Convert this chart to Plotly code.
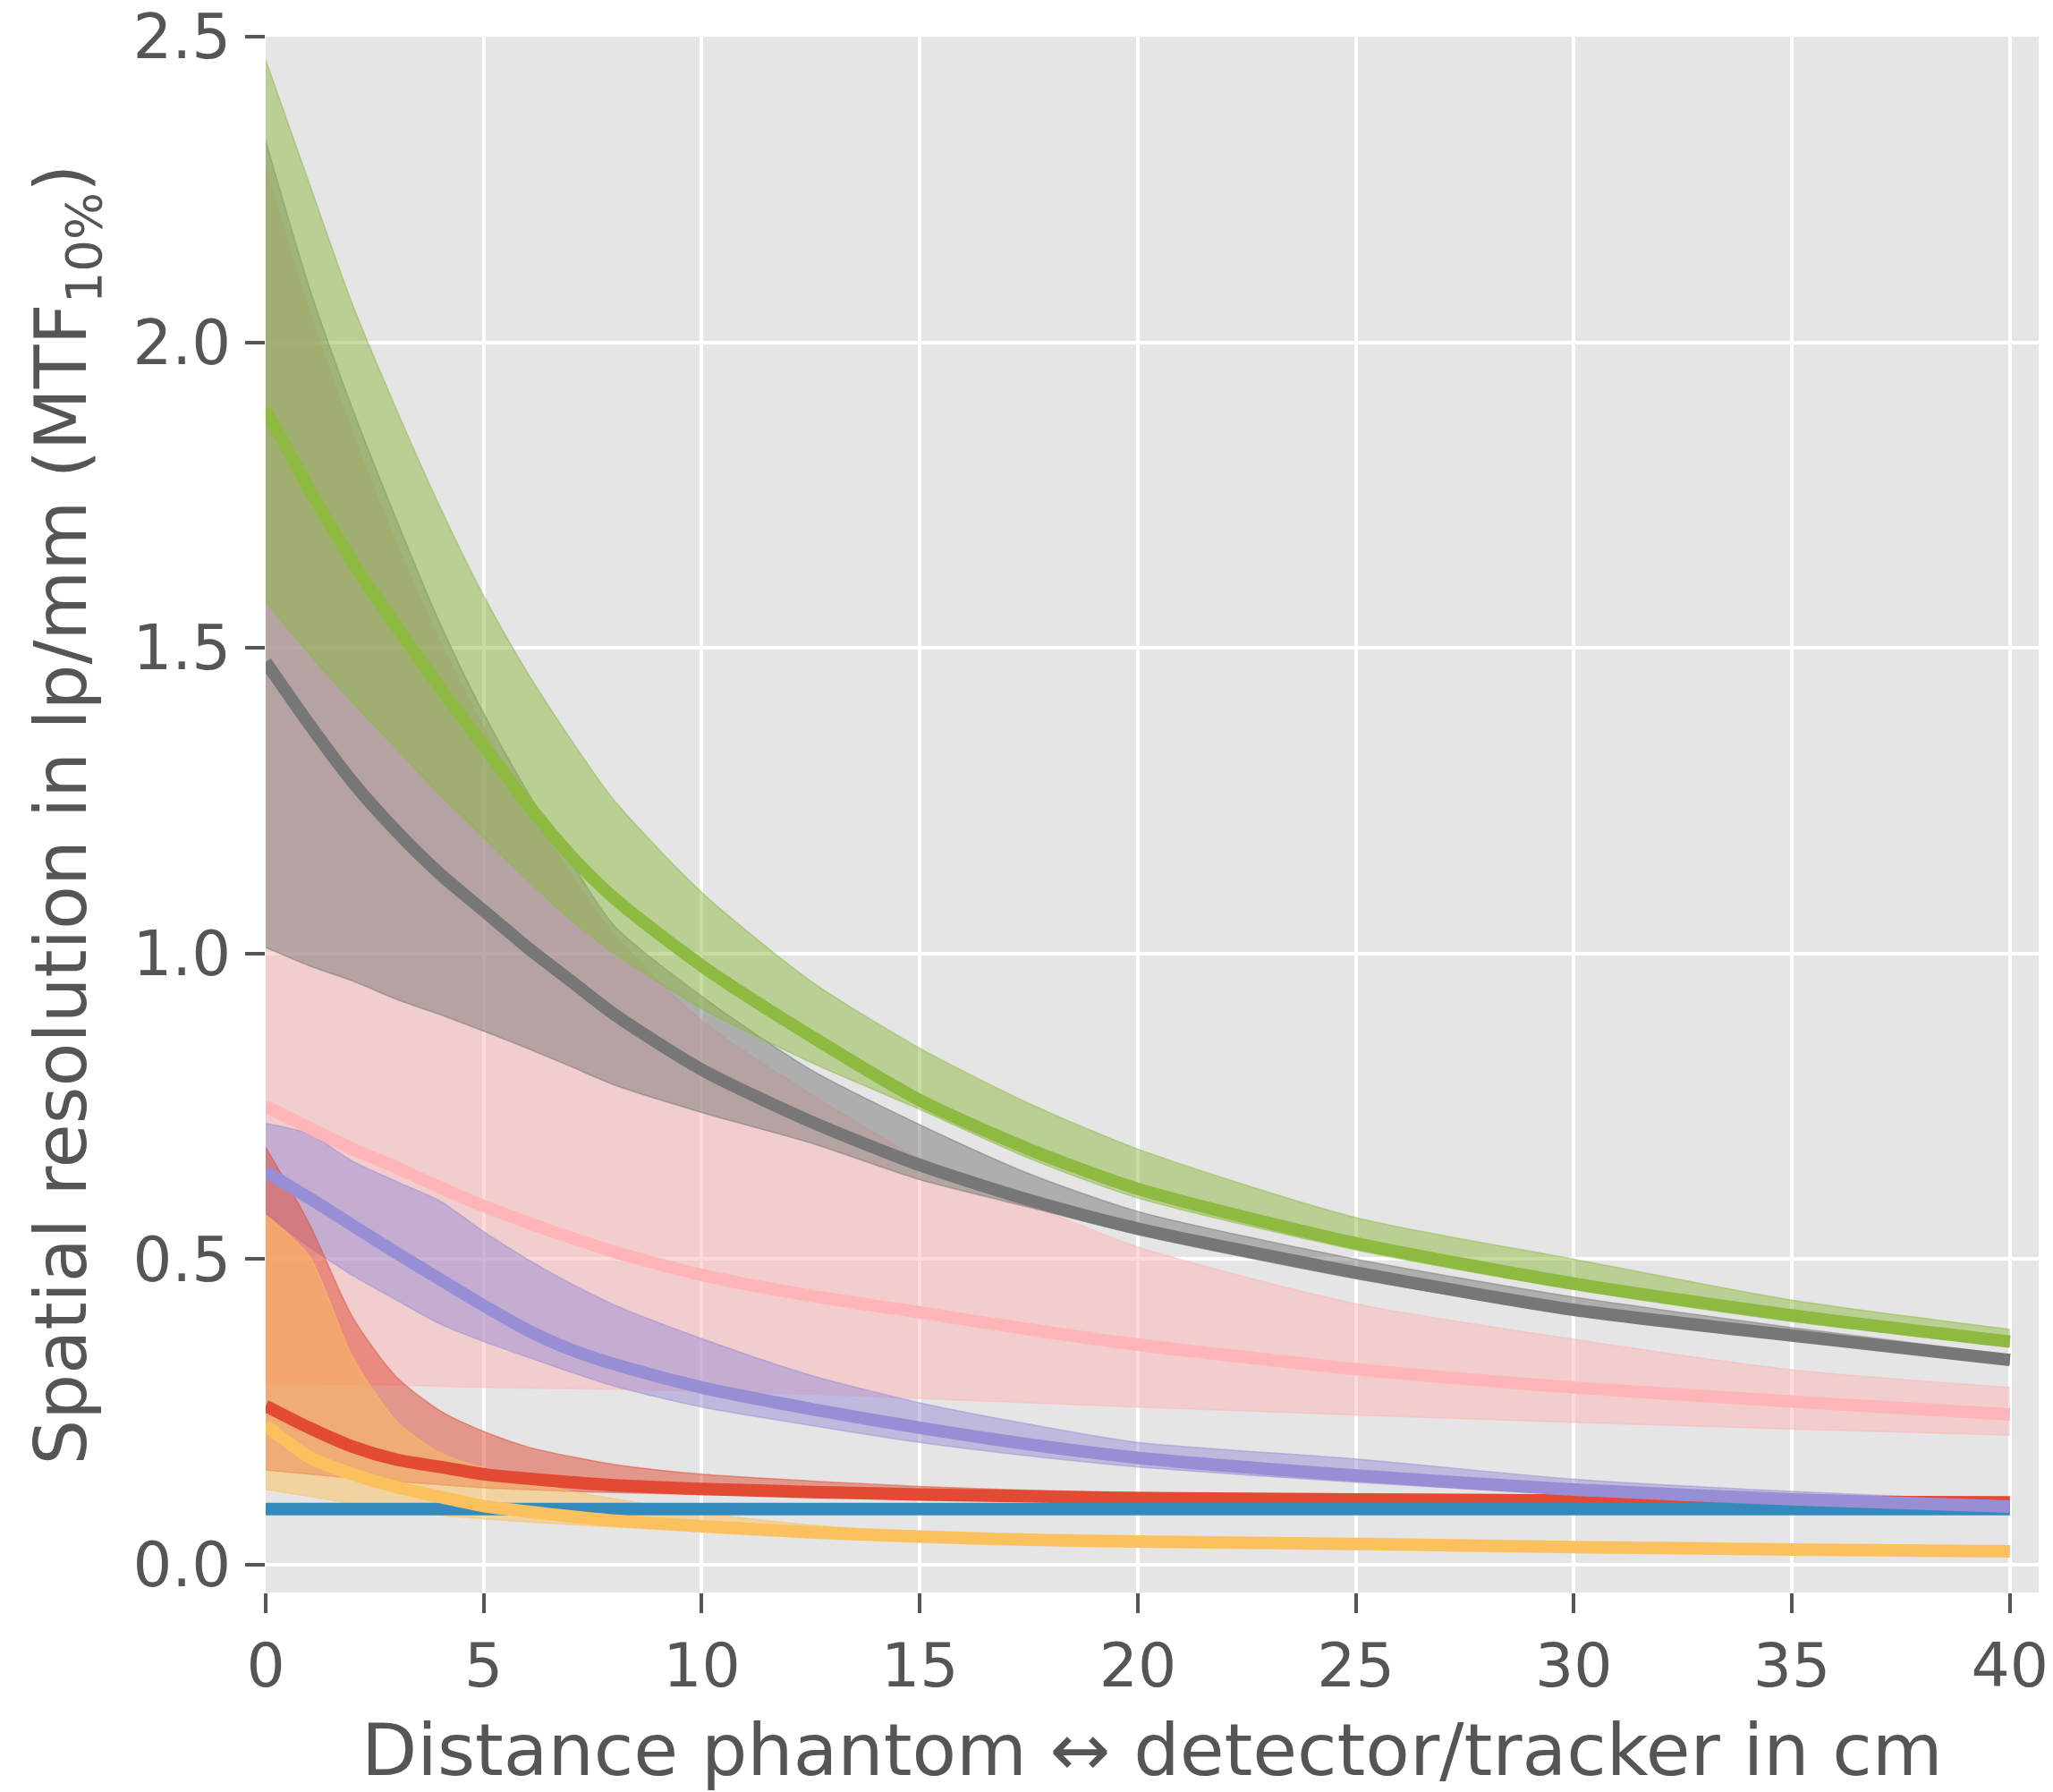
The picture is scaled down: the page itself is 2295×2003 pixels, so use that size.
import plotly.graph_objects as go

# Distance phantom <-> detector/tracker in cm
X = [0, 1, 2, 3, 4, 5, 6, 7, 8, 10, 12.5, 15, 17.5, 20, 25, 30, 35, 40]

# red series
RED = [0.26, 0.224, 0.193, 0.172, 0.16, 0.148, 0.141, 0.135, 0.13, 0.124, 0.119, 0.115, 0.112, 0.109, 0.107, 0.105, 0.103, 0.102]
RED_LO = [0.155, 0.148, 0.142, 0.136, 0.131, 0.126, 0.123, 0.12, 0.118, 0.115, 0.112, 0.11, 0.108, 0.106, 0.104, 0.102, 0.101, 0.1]
RED_HI = [0.683, 0.558, 0.404, 0.307, 0.252, 0.218, 0.193, 0.177, 0.164, 0.148, 0.137, 0.128, 0.122, 0.118, 0.113, 0.109, 0.106, 0.104]

# blue series
BLUE = [0.091] * 18
BLUE_LO = [0.088] * 18
BLUE_HI = [0.094] * 18

# purple series
PURPLE = [0.643, 0.6, 0.555, 0.51, 0.467, 0.424, 0.384, 0.352, 0.328, 0.29, 0.255, 0.224, 0.197, 0.175, 0.146, 0.123, 0.107, 0.095]
PURPLE_LO = [0.575, 0.52, 0.473, 0.433, 0.394, 0.365, 0.34, 0.315, 0.292, 0.258, 0.228, 0.2, 0.178, 0.16, 0.135, 0.115, 0.1, 0.089]
PURPLE_HI = [0.722, 0.705, 0.66, 0.627, 0.595, 0.545, 0.5, 0.46, 0.425, 0.37, 0.31, 0.265, 0.23, 0.2, 0.173, 0.14, 0.12, 0.104]

# gray series
GRAY = [1.477, 1.375, 1.28, 1.2, 1.13, 1.07, 1.01, 0.955, 0.9, 0.81, 0.725, 0.654, 0.597, 0.55, 0.478, 0.417, 0.375, 0.335]
GRAY_LO = [1.01, 0.98, 0.955, 0.925, 0.9, 0.873, 0.845, 0.815, 0.785, 0.74, 0.69, 0.63, 0.585, 0.54, 0.468, 0.41, 0.368, 0.328]
GRAY_HI = [2.33, 2.09, 1.89, 1.71, 1.54, 1.393, 1.265, 1.15, 1.045, 0.93, 0.81, 0.72, 0.64, 0.578, 0.5, 0.438, 0.388, 0.343]

# yellow series
YELLOW = [0.228, 0.176, 0.148, 0.127, 0.111, 0.096, 0.087, 0.079, 0.072, 0.063, 0.053, 0.046, 0.041, 0.038, 0.034, 0.029, 0.025, 0.022]
YELLOW_LO = [0.123, 0.112, 0.1, 0.09, 0.081, 0.075, 0.07, 0.066, 0.062, 0.056, 0.048, 0.042, 0.038, 0.035, 0.031, 0.027, 0.023, 0.02]
YELLOW_HI = [0.572, 0.505, 0.339, 0.235, 0.183, 0.158, 0.138, 0.12, 0.108, 0.085, 0.065, 0.052, 0.046, 0.042, 0.036, 0.031, 0.027, 0.024]

# green series
GREEN = [1.89, 1.76, 1.64, 1.535, 1.435, 1.34, 1.245, 1.16, 1.09, 0.98, 0.865, 0.76, 0.68, 0.615, 0.526, 0.46, 0.408, 0.365]
GREEN_LO = [1.575, 1.49, 1.41, 1.335, 1.26, 1.19, 1.12, 1.055, 1.0, 0.91, 0.822, 0.745, 0.665, 0.6, 0.515, 0.45, 0.398, 0.357]
GREEN_HI = [2.462, 2.26, 2.06, 1.89, 1.73, 1.585, 1.46, 1.35, 1.25, 1.1, 0.955, 0.845, 0.755, 0.68, 0.568, 0.5, 0.433, 0.385]

# pink series
PINK = [0.75, 0.715, 0.68, 0.65, 0.617, 0.587, 0.56, 0.535, 0.512, 0.474, 0.44, 0.413, 0.385, 0.36, 0.32, 0.29, 0.267, 0.246]
PINK_LO = [0.297, 0.296, 0.295, 0.294, 0.292, 0.29, 0.289, 0.288, 0.287, 0.284, 0.279, 0.272, 0.265, 0.258, 0.245, 0.233, 0.222, 0.212]
PINK_HI = [2.285, 2.05, 1.85, 1.67, 1.51, 1.37, 1.24, 1.13, 1.03, 0.89, 0.77, 0.665, 0.59, 0.52, 0.427, 0.369, 0.319, 0.29]

X_TICKS = [0, 5, 10, 15, 20, 25, 30, 35, 40]
Y_TICKS = [0.0, 0.5, 1.0, 1.5, 2.0, 2.5]
X_TITLE = "Distance phantom ↔ detector/tracker in cm"
Y_TITLE = "Spatial resolution in lp/mm (MTF<sub>10%</sub>)"

COLORS = {
    "red": (226, 74, 51),
    "blue": (52, 138, 189),
    "purple": (152, 142, 213),
    "gray": (119, 119, 119),
    "yellow": (251, 193, 94),
    "green": (142, 186, 66),
    "pink": (255, 181, 184),
}
SERIES = {
    "red": (RED, RED_LO, RED_HI),
    "blue": (BLUE, BLUE_LO, BLUE_HI),
    "purple": (PURPLE, PURPLE_LO, PURPLE_HI),
    "gray": (GRAY, GRAY_LO, GRAY_HI),
    "yellow": (YELLOW, YELLOW_LO, YELLOW_HI),
    "green": (GREEN, GREEN_LO, GREEN_HI),
    "pink": (PINK, PINK_LO, PINK_HI),
}
FILL_ORDER = ["pink", "purple", "red", "yellow", "blue", "gray", "green"]
LINE_ORDER = ["red", "blue", "purple", "gray", "yellow", "green", "pink"]

fig = go.Figure()

for name in FILL_ORDER:
    r, g, b = COLORS[name]
    mid, lo, hi = SERIES[name]
    rgba = f"rgba({r},{g},{b},0.5)"
    fig.add_trace(go.Scatter(x=X, y=lo, mode="lines",
                             line=dict(color=rgba, width=1.5, shape="spline", smoothing=0.7),
                             showlegend=False, hoverinfo="skip"))
    fig.add_trace(go.Scatter(x=X, y=hi, mode="lines", fill="tonexty", fillcolor=rgba,
                             line=dict(color=rgba, width=1.5, shape="spline", smoothing=0.7),
                             showlegend=False, hoverinfo="skip"))

for name in LINE_ORDER:
    r, g, b = COLORS[name]
    mid, lo, hi = SERIES[name]
    fig.add_trace(go.Scatter(x=X, y=mid, mode="lines",
                             line=dict(color=f"rgb({r},{g},{b})", width=14, shape="spline", smoothing=0.7),
                             showlegend=False))

FONT = "DejaVu Sans"
TXT = "#555555"

# page body has an 8px default margin; figure sized so the plot lands where the reference has it
fig.update_layout(
    width=2287, height=1995,
    margin=dict(l=289, r=16, t=33, b=223),
    paper_bgcolor="white",
    plot_bgcolor="#E5E5E5",
    font=dict(family=FONT, color=TXT, size=68),
    showlegend=False,
)
fig.update_xaxes(
    range=[0, 40.66], tickvals=X_TICKS, ticktext=[str(v) for v in X_TICKS],
    ticks="outside", ticklen=22, tickwidth=3.5, tickcolor=TXT,
    showgrid=True, gridcolor="white", gridwidth=4, zeroline=False, showline=False,
    tickfont=dict(family=FONT, size=68, color=TXT), ticklabelstandoff=0,
    ticklabeloverflow="allow", automargin=False,
)
fig.update_yaxes(
    range=[-0.0454, 2.5], tickvals=Y_TICKS, tickformat=".1f",
    ticks="outside", ticklen=22, tickwidth=3.5, tickcolor=TXT,
    showgrid=True, gridcolor="white", gridwidth=4, zeroline=False, showline=False,
    tickfont=dict(family=FONT, size=69, color=TXT), ticklabelstandoff=2,
    ticklabeloverflow="allow", automargin=False,
    title=dict(text=Y_TITLE, font=dict(family=FONT, size=80, color=TXT), standoff=25),
)
fig.add_annotation(
    text=X_TITLE, xref="paper", yref="paper", x=0.5, y=0,
    xanchor="center", yanchor="middle", yshift=-176, showarrow=False,
    font=dict(family=FONT, size=81, color=TXT),
)

fig.write_html("out.html")
